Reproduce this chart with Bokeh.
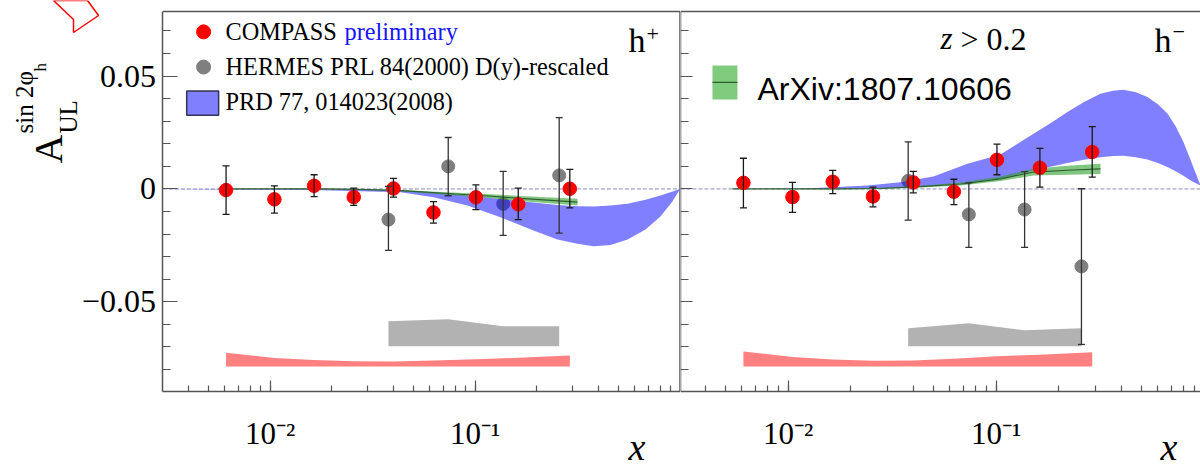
from bokeh.embed import file_html
from bokeh.resources import INLINE
from bokeh.plotting import figure
from bokeh.layouts import row
from bokeh.models import (ColumnDataSource, Whisker, TeeHead, Label, PolyAnnotation,
                          FixedTicker, Range1d)

# ---------- data ----------
compass_x = [0.0061, 0.0105, 0.0164, 0.0256, 0.040, 0.0627, 0.101, 0.1625, 0.29]
hermes_x = [0.0378, 0.074, 0.1372, 0.2574]

compass_pos = [-0.0005, -0.0046, 0.0014, -0.0036, 0.0002, -0.0104, -0.0037, -0.0068, 0.0001]
compass_pos_hi = [0.0102, 0.0014, 0.0063, 0.0004, 0.0047, -0.0056, 0.0018, 0.0004, 0.0087]
compass_pos_lo = [-0.0113, -0.0107, -0.0034, -0.0073, -0.0036, -0.0151, -0.0092, -0.0136, -0.0084]

compass_neg = [0.0027, -0.0036, 0.0032, -0.0033, 0.0029, -0.0012, 0.0129, 0.0094, 0.0164]
compass_neg_hi = [0.0136, 0.0029, 0.0082, 0.0008, 0.0078, 0.0043, 0.0199, 0.018, 0.0276]
compass_neg_lo = [-0.0084, -0.0104, -0.0021, -0.0079, -0.0017, -0.0069, 0.0063, 0.0008, 0.0052]

hermes_pos = [-0.0136, 0.01, -0.0066, 0.006]
hermes_pos_hi = [0.0011, 0.0228, 0.0078, 0.0316]
hermes_pos_lo = [-0.0272, -0.003, -0.0206, -0.0196]

hermes_neg = [0.0036, -0.0113, -0.0091, -0.0343]
hermes_neg_hi = [0.0209, 0.0027, 0.0077, 0.0001]
hermes_neg_lo = [-0.0138, -0.0259, -0.0259, -0.0689]

blue_pos_x = [0.003, 0.0061, 0.0141, 0.0247, 0.0434, 0.0628, 0.0918, 0.133, 0.1928, 0.2523,
              0.316, 0.3785, 0.458, 0.5546, 0.679, 0.803, 0.92, 1.0]
blue_pos_lo = [0, -0.0002, -0.0004, -0.0009, -0.0015, -0.0037, -0.0073, -0.0125, -0.0184, -0.0224,
               -0.0243, -0.0254, -0.0248, -0.0224, -0.018, -0.0122, -0.0055, 0]
blue_pos_hi = [0, 0, 0, -0.0002, -0.0007, -0.0015, -0.0029, -0.0044, -0.006, -0.0071,
               -0.0077, -0.0078, -0.0073, -0.0065, -0.0048, -0.0029, -0.0011, 0]

blue_neg_x = [0.003, 0.0061, 0.0115, 0.0241, 0.0347, 0.05, 0.0729, 0.105, 0.1514, 0.185, 0.2203, 0.265,
              0.3177, 0.365, 0.4093, 0.47, 0.5345, 0.60, 0.6668, 0.73, 0.7962, 0.87, 0.9616, 1.0]
blue_neg_hi = [0, 0, 0.0001, 0.0015, 0.003, 0.0055, 0.0112, 0.0153, 0.0245, 0.0295, 0.0341, 0.0385,
               0.0422, 0.0435, 0.044, 0.0428, 0.0407, 0.0375, 0.0334, 0.0278, 0.0208, 0.0118, 0.0015, 0]
blue_neg_lo = [0, 0, 0, 0.0002, 0.0005, 0.0015, 0.0025, 0.0045, 0.0082, 0.0099, 0.0115, 0.0129,
               0.0141, 0.0146, 0.0147, 0.0141, 0.013, 0.0115, 0.0097, 0.0078, 0.0058, 0.0035, 0.0015, 0]

green_pos_x = [0.0056, 0.0176, 0.0276, 0.0434, 0.0679, 0.1064, 0.1667, 0.316]
green_pos = [0, 0, -0.0002, -0.0007, -0.0018, -0.0029, -0.0042, -0.0058]
green_pos_err = [0, 0.0001, 0.00015, 0.0003, 0.0005, 0.0008, 0.0011, 0.0015]

green_neg_x = [0.0054, 0.0176, 0.0276, 0.0434, 0.0679, 0.105, 0.1514, 0.2203, 0.3177]
green_neg = [0, 0, 0.0002, 0.001, 0.0022, 0.0045, 0.0075, 0.0083, 0.0089]
green_neg_err = [0, 0.0001, 0.0002, 0.0004, 0.0007, 0.001, 0.0015, 0.002, 0.0023]

red_pos_top = [-0.0726, -0.0749, -0.0758, -0.0763, -0.0764, -0.076, -0.0755, -0.0748, -0.0738]
red_neg_top = [-0.072, -0.0745, -0.0756, -0.0761, -0.076, -0.0752, -0.0741, -0.0735, -0.0723]
red_bottom = -0.0787

gray_pos_top = [-0.0586, -0.0577, -0.0608, -0.0608]
gray_neg_top = [-0.0617, -0.0595, -0.0626, -0.0617]
gray_bottom = -0.0697

y_major = [-0.05, 0, 0.05]
y_labels = {-0.05: "\u22120.05", 0: "0", 0.05: "0.05"}
y_minor = [-0.08, -0.07, -0.06, -0.05, -0.04, -0.03, -0.02, -0.01, 0, 0.01, 0.02, 0.03, 0.04, 0.05, 0.06, 0.07]
x_major = [0.01, 0.1]
x_labels = {0.01: "10\u207b\u00b2", 0.1: "10\u207b\u00b9"}
x_minor = [0.004, 0.005, 0.006, 0.007, 0.008, 0.009, 0.01, 0.02, 0.03, 0.04, 0.05, 0.06, 0.07, 0.08, 0.09,
           0.1, 0.2, 0.3, 0.4, 0.5, 0.6, 0.7, 0.8, 0.9]

# ---------- layout ----------
H = 469
Y_TOP, Y_BOTTOM = 0.0786, -0.0897     # frame of the panels
Y_FULL = (-0.1243, 0.0835)            # whole canvas height
AXC = "#555555"
SERIF = "Liberation Serif"
BASE = 0.375                          # share of the font size by which a label sits below its anchor


def make(width, xr, x_left, x_right):
    # the plot area fills the whole canvas: axes are pinned to the panel edges,
    # so that the texts in the margins are not clipped away
    p = figure(width=width, height=H, x_axis_type="log", output_backend="svg", toolbar_location=None,
               x_range=Range1d(*xr), y_range=Range1d(*Y_FULL), min_border=0, tools="",
               background_fill_color="white", border_fill_color="white")
    p.grid.visible = False
    p.outline_line_color = None
    xa, ya = p.xaxis[0], p.yaxis[0]
    xa.fixed_location = Y_BOTTOM
    ya.fixed_location = x_left
    xa.bounds = (x_left, x_right)
    ya.bounds = (Y_BOTTOM, Y_TOP)
    xa.ticker = FixedTicker(ticks=x_major, minor_ticks=x_minor)
    xa.major_tick_in, xa.major_tick_out, xa.minor_tick_in, xa.minor_tick_out = 11, 0, 6, 0
    xa.major_label_overrides = x_labels
    xa.major_label_text_font = SERIF
    xa.major_label_text_font_size = "31px"
    xa.major_label_text_color = "black"
    xa.major_label_standoff = 25
    ya.ticker = FixedTicker(ticks=y_major, minor_ticks=y_minor)
    ya.major_tick_in, ya.major_tick_out, ya.minor_tick_in, ya.minor_tick_out = 15, 0, 8, 0
    ya.major_label_text_font = SERIF
    ya.major_label_text_color = "black"
    for a in (xa, ya):
        a.axis_line_color = AXC
        a.axis_line_width = 1.5
        a.major_tick_line_color = AXC
        a.minor_tick_line_color = AXC
        a.major_tick_line_width = 1.2
        a.minor_tick_line_width = 1.2
    p.line([x_left, x_right], [Y_TOP, Y_TOP], line_color=AXC, line_width=1.5)
    return p


def whiskers(p, x, lo, hi, color):
    src = ColumnDataSource(dict(x=x, lo=lo, hi=hi))
    p.add_layout(Whisker(source=src, base="x", lower="lo", upper="hi", dimension="height", level="glyph",
                         line_color=color, line_width=1.3,
                         upper_head=TeeHead(size=7, line_color=color, line_width=1.3),
                         lower_head=TeeHead(size=7, line_color=color, line_width=1.3)))


def panel(p, xlims, comp, comp_hi, comp_lo, her, her_hi, her_lo, bx, blo, bhi, gx, gy, ge, red_top, gray_top):
    p.line(xlims, [0, 0], line_color="#8a8ac0", line_width=1, line_dash="4 2")
    p.varea(compass_x, [red_bottom] * len(compass_x), red_top, fill_color="#ff8080")
    p.varea(hermes_x, [gray_bottom] * len(hermes_x), gray_top, fill_color="#b2b2b2")
    whiskers(p, hermes_x, her_lo, her_hi, "#333333")
    p.scatter(hermes_x, her, size=13, color="#7f7f7f")
    p.varea(bx, blo, bhi, fill_color="#0000ff", fill_alpha=0.5)
    p.varea(gx, [a - b for a, b in zip(gy, ge)], [a + b for a, b in zip(gy, ge)],
            fill_color="#2ca02c", fill_alpha=0.6)
    p.line(gx, gy, line_color="#2f5f2f", line_width=1.2)
    whiskers(p, compass_x, comp_lo, comp_hi, "#1a1a1a")
    p.scatter(compass_x, comp, size=13.5, color="#ff0000")


def txt(p, fl, px, py, text, size, font=SERIF, style="normal", color="black", angle=0):
    dx, dy = (BASE * size, 0) if angle else (0, BASE * size)
    p.add_layout(Label(x=px - fl - dx, y=H - py + dy, x_units="screen", y_units="screen", text=text, angle=angle,
                       text_font=font, text_font_size=f"{size}px", text_font_style=style, text_color=color,
                       text_align="left", text_baseline="alphabetic"))


# ---------- left panel ----------
p1 = make(680, (0.000484, 1.0056), 0.003, 1.0)
p1.line([1.0, 1.0], [Y_BOTTOM, Y_TOP], line_color=AXC, line_width=1.5)
p1.yaxis[0].major_label_overrides = y_labels
p1.yaxis[0].major_label_text_font_size = "32px"
p1.yaxis[0].major_label_standoff = 7
panel(p1, [0.003, 1.0], compass_pos, compass_pos_hi, compass_pos_lo, hermes_pos, hermes_pos_hi, hermes_pos_lo,
      blue_pos_x, blue_pos_lo, blue_pos_hi, green_pos_x, green_pos, green_pos_err, red_pos_top, gray_pos_top)

# legend of the left panel
p1.scatter([0.00474], [0.0696], size=14, color="#ff0000")
p1.scatter([0.00474], [0.054], size=14, color="#7f7f7f")
p1.quad(left=[0.00392], right=[0.00561], top=[0.0434], bottom=[0.0327], fill_color="#8080ff",
        line_color="#333355", line_width=1.5)
txt(p1, 0, 225, 40, "COMPASS", 24.3)
txt(p1, 0, 344, 40, "preliminary", 24.3, color="#1414ff")
txt(p1, 0, 225, 75, "HERMES PRL 84(2000) D(y)-rescaled", 24.3)
txt(p1, 0, 225, 110, "PRD 77, 014023(2008)", 24.3)
txt(p1, 0, 628, 53, "h", 34)
txt(p1, 0, 646, 42, "+", 22)
txt(p1, 0, 628, 461, "x", 38, style="italic")

# y title
R = 1.5708
txt(p1, 0, 63, 163, "A", 40, angle=R)
txt(p1, 0, 77, 133, "UL", 25, angle=R)
txt(p1, 0, 33, 133, "sin 2\u03c6", 25, angle=R)
txt(p1, 0, 46, 71, "h", 17, angle=R)

# arrow outside the frame
arrow_x = [53, 73, 73, 98, 87]
arrow_y = [0, 19, 32, 15, 0]
p1.add_layout(PolyAnnotation(xs=arrow_x, ys=[H - v for v in arrow_y], xs_units="screen", ys_units="screen",
                             fill_alpha=0, line_color="#ff0000", line_alpha=1, line_width=1.5, editable=False))

# ---------- right panel ----------
FL2 = 680
p2 = make(520, (0.00304, 0.9616), 0.00304, 0.9616)
p2.yaxis[0].major_label_overrides = {t: "" for t in y_major}
p2.yaxis[0].major_label_text_font_size = "0px"
p2.yaxis[0].major_tick_in = 12
panel(p2, [0.00304, 0.9616], compass_neg, compass_neg_hi, compass_neg_lo, hermes_neg, hermes_neg_hi, hermes_neg_lo,
      blue_neg_x, blue_neg_lo, blue_neg_hi, green_neg_x, green_neg, green_neg_err, red_neg_top, gray_neg_top)

p2.quad(left=[0.00433], right=[0.00571], top=[0.0547], bottom=[0.0396], fill_color="#80cc7e", line_color=None)
p2.line([0.00433, 0.00571], [0.0472, 0.0472], line_color="#2f5f2f", line_width=1.2)
txt(p2, FL2, 757, 100, "ArXiv:1807.10606", 32, font="Liberation Sans")
txt(p2, FL2, 940, 50, "z", 31, style="italic")
txt(p2, FL2, 960, 50, "> 0.2", 32)
txt(p2, FL2, 1154, 53, "h", 34)
txt(p2, FL2, 1172, 40, "\u2212", 22)
txt(p2, FL2, 1160, 461, "x", 38, style="italic")

root = row(p1, p2, spacing=0)
open("out.html", "w").write(file_html(root, INLINE))
